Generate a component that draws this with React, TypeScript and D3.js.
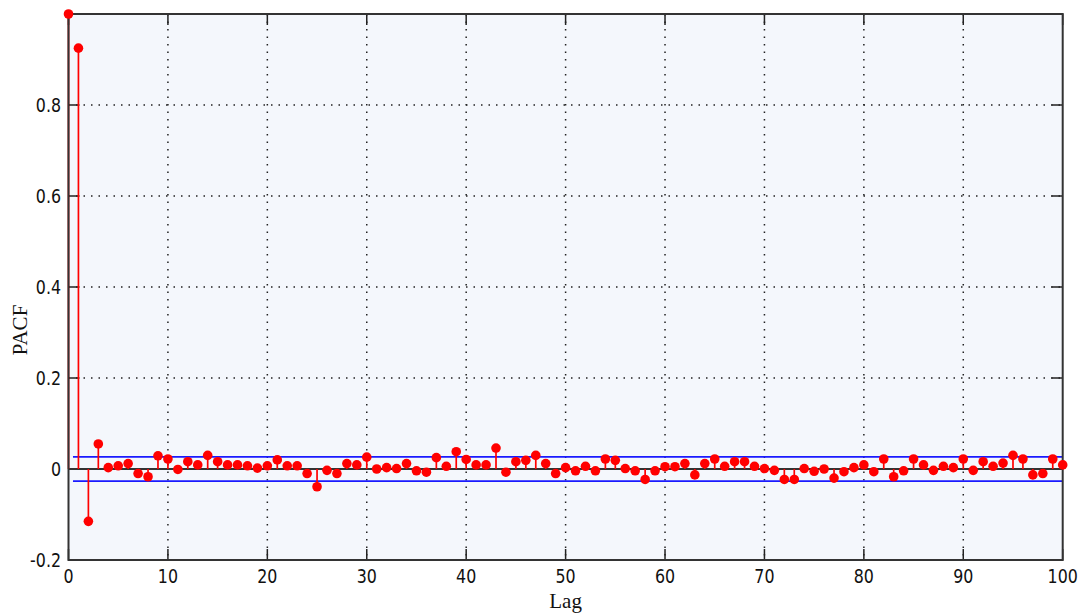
import React from "react";
import * as d3 from "d3";

const lags: number[] = d3.range(0, 101);
const pacf: number[] = [
  1.0, 0.925, -0.115, 0.055, 0.003, 0.007, 0.012, -0.01, -0.017, 0.029,
  0.022, -0.001, 0.016, 0.009, 0.03, 0.016, 0.009, 0.009, 0.007, 0.002,
  0.007, 0.02, 0.007, 0.007, -0.01, -0.039, -0.003, -0.01, 0.012, 0.009,
  0.026, 0.0, 0.003, 0.001, 0.012, -0.004, -0.007, 0.025, 0.006, 0.038,
  0.021, 0.009, 0.009, 0.046, -0.007, 0.016, 0.019, 0.03, 0.012, -0.01,
  0.003, -0.004, 0.006, -0.004, 0.022, 0.019, 0.001, -0.004, -0.023, -0.004,
  0.005, 0.005, 0.012, -0.013, 0.012, 0.022, 0.006, 0.016, 0.016, 0.006,
  0.001, -0.003, -0.023, -0.023, 0.001, -0.005, 0.0, -0.02, -0.006, 0.003,
  0.009, -0.006, 0.022, -0.017, -0.004, 0.022, 0.009, -0.003, 0.006, 0.003,
  0.022, -0.003, 0.016, 0.006, 0.013, 0.03, 0.022, -0.013, -0.01, 0.022,
  0.009,
];
const confBound = 0.0266;
const xTicks: number[] = [0, 10, 20, 30, 40, 50, 60, 70, 80, 90, 100];
const yTicks: number[] = [-0.2, 0, 0.2, 0.4, 0.6, 0.8];
const yTickLabels: string[] = ["-0.2", "0", "0.2", "0.4", "0.6", "0.8"];
const xLabel = "Lag";
const yLabel = "PACF";

export default function App() {
  const left = 68.5, right = 1062.7, top = 14, bottom = 560;
  const x = d3.scaleLinear().domain([0, 100]).range([left, right]);
  const y = d3.scaleLinear().domain([-0.2, 1.0]).range([bottom, top]);
  const tickFont = "'DejaVu Sans Condensed', 'DejaVu Sans', sans-serif";
  const dotted = { stroke: "#222", strokeWidth: 1.5, strokeDasharray: "1.5 6" };
  return (
    <div style={{ position: "absolute", left: 0, top: 0 }}>
      <svg width={1088} height={616} style={{ display: "block", background: "#fff" }}>
        <rect x={left} y={top} width={right - left} height={bottom - top} fill="#F4F7FC" />
        {xTicks.slice(1, -1).map((t) => (
          <line key={"gx" + t} x1={x(t)} x2={x(t)} y1={top} y2={bottom} {...dotted} />
        ))}
        {[0.2, 0.4, 0.6, 0.8].map((t) => (
          <line key={"gy" + t} x1={left} x2={right} y1={y(t)} y2={y(t)} {...dotted} />
        ))}
        {xTicks.map((t) => (
          <g key={"tx" + t}>
            <line x1={x(t)} x2={x(t)} y1={bottom} y2={bottom - 11} stroke="#222" strokeWidth={1.5} />
            <line x1={x(t)} x2={x(t)} y1={top} y2={top + 11} stroke="#222" strokeWidth={1.5} />
          </g>
        ))}
        {yTicks.concat([1.0]).map((t) => (
          <g key={"ty" + t}>
            <line x1={left} x2={left + 11} y1={y(t)} y2={y(t)} stroke="#222" strokeWidth={1.5} />
            <line x1={right} x2={right - 11} y1={y(t)} y2={y(t)} stroke="#222" strokeWidth={1.5} />
          </g>
        ))}
        <line x1={left} x2={right} y1={y(0)} y2={y(0)} stroke="#333" strokeWidth={2} />
        <line x1={x(0.45)} x2={right} y1={y(confBound)} y2={y(confBound)} stroke="#1a1aff" strokeWidth={1.8} />
        <line x1={x(0.45)} x2={right} y1={y(-confBound)} y2={y(-confBound)} stroke="#1a1aff" strokeWidth={1.8} />
        {lags.map((l, i) => (
          <line key={"s" + l} x1={x(l)} x2={x(l)} y1={y(0)} y2={y(pacf[i])} stroke="#FF0000" strokeWidth={1.7} />
        ))}
        <rect x={left} y={top} width={right - left} height={bottom - top} fill="none" stroke="#333" strokeWidth={2} />
        {lags.map((l, i) => (
          <circle key={"c" + l} cx={x(l)} cy={y(pacf[i])} r={4.8} fill="#FF0000" />
        ))}
        {yTicks.map((t, i) => (
          <text key={"ly" + t} x={61} y={y(t)} dy="0.36em" textAnchor="end" fontFamily={tickFont} fontSize={20} fill="#111"
            transform={`translate(61,0) scale(0.88,1) translate(-61,0)`}>
            {yTickLabels[i]}
          </text>
        ))}
        {xTicks.map((t) => (
          <text key={"lx" + t} x={x(t)} y={583} textAnchor="middle" fontFamily={tickFont} fontSize={20} fill="#111"
            transform={`translate(${x(t)},0) scale(0.88,1) translate(${-x(t)},0)`}>
            {t}
          </text>
        ))}
        <text x={(left + right) / 2} y={608} textAnchor="middle" fontFamily="'Liberation Serif', 'Times New Roman', serif" fontSize={21} fill="#111">
          {xLabel}
        </text>
        <text transform={`translate(27,${330}) rotate(-90)`} textAnchor="middle" fontFamily="'Liberation Serif', 'Times New Roman', serif" fontSize={21} fill="#111">
          {yLabel}
        </text>
      </svg>
    </div>
  );
}
